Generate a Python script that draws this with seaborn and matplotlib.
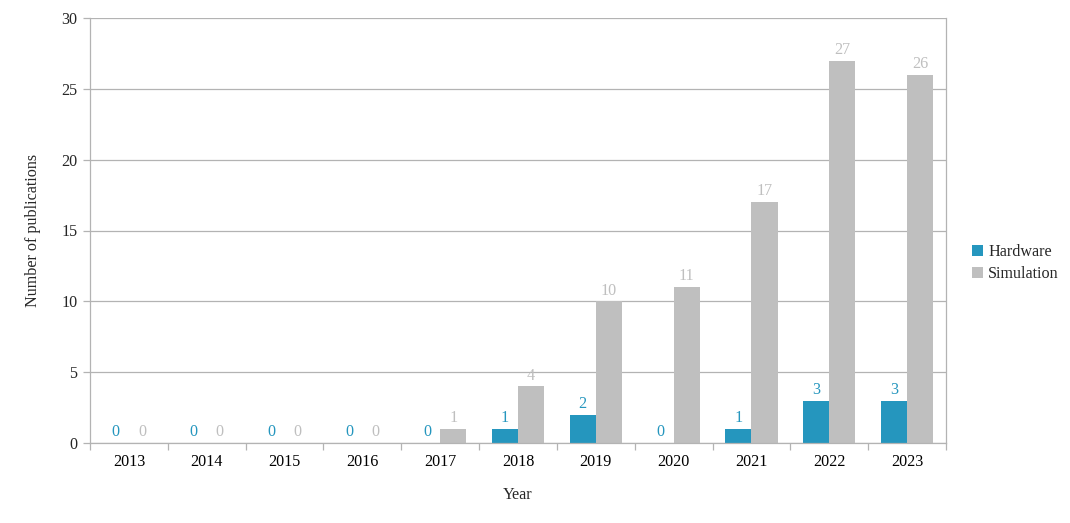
import matplotlib
matplotlib.use("Agg")
import matplotlib.pyplot as plt
import seaborn as sns
import pandas as pd
import numpy as np

years = ["2013", "2014", "2015", "2016", "2017", "2018", "2019", "2020", "2021", "2022", "2023"]
hardware = [0, 0, 0, 0, 0, 1, 2, 0, 1, 3, 3]
simulation = [0, 0, 0, 0, 1, 4, 10, 11, 17, 27, 26]
series = ["Hardware", "Simulation"]
colors = ["#2596be", "#bfbfbf"]

df = pd.DataFrame({
    "Year": years * 2,
    "Count": hardware + simulation,
    "Series": [series[0]] * len(years) + [series[1]] * len(years),
})

sns.set_theme(style="white")
plt.rcParams["font.family"] = ["Liberation Serif", "DejaVu Serif"]

fig = plt.figure(figsize=(10.7, 5.23), dpi=100)
ax = fig.add_axes([90 / 1070, 1 - 443 / 523, 856 / 1070, 425 / 523])

sns.barplot(data=df, x="Year", y="Count", hue="Series", palette=colors,
            width=0.67, gap=0, ax=ax, saturation=1, legend=True,
            linewidth=0, edgecolor="none")

fs = 11.6
for cont, col in zip(ax.containers, colors):
    vals = [p.get_height() for p in cont]
    labs = [f"{int(v)}" for v in vals]
    ax.bar_label(cont, labels=labs, color=col, fontsize=fs, padding=2)

ax.set_ylim(0, 30)
ax.set_xlim(-0.5, len(years) - 0.5)
ax.set_yticks(np.arange(0, 31, 5))
ax.yaxis.grid(True, color="#b3b3b3", linewidth=0.9)
ax.set_axisbelow(True)
for s in ax.spines.values():
    s.set_color("#b3b3b3")
    s.set_linewidth(0.9)
ax.spines["top"].set_visible(False)

ax.tick_params(axis="x", which="major", length=0, labelsize=fs, pad=8, colors="black")
ax.set_xticks(np.arange(-0.5, len(years), 1), minor=True)
ax.tick_params(axis="x", which="minor", length=5, color="#b3b3b3", width=0.9, direction="out", bottom=True)
ax.tick_params(axis="y", length=5, color="#b3b3b3", width=0.9, labelsize=fs, left=True, direction="out", pad=4)

ax.set_xlabel("Year", fontsize=fs, labelpad=12)
ax.set_ylabel("Number of publications", fontsize=fs, labelpad=15)

leg = ax.legend(loc="center left", bbox_to_anchor=(1.0135, 0.423), frameon=False,
                fontsize=fs, handlelength=0.7, handleheight=0.7, handletextpad=0.3,
                labelspacing=0.4)

fig.savefig("out.png", dpi=100)
